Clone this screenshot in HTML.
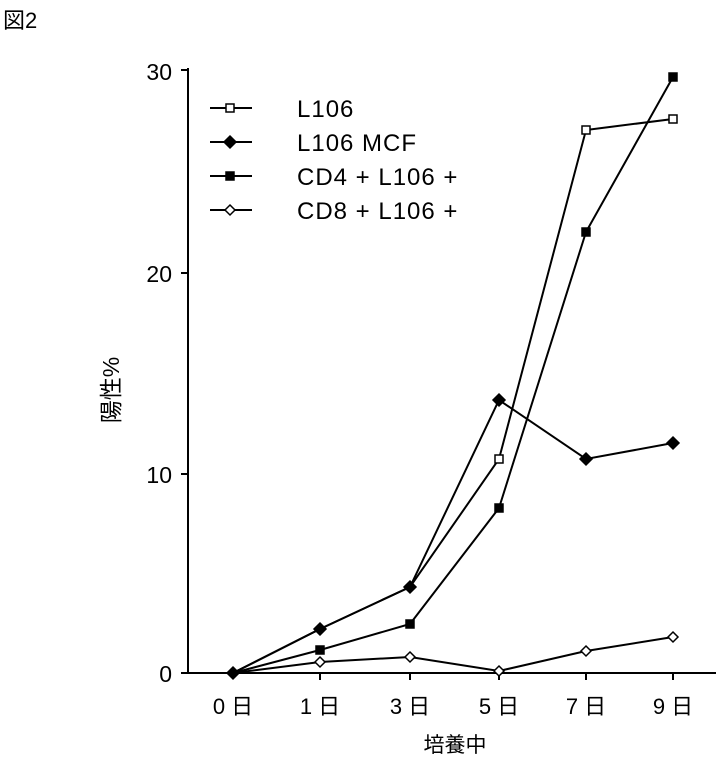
<!DOCTYPE html>
<html><head><meta charset="utf-8"><style>
body{margin:0;background:#fff}
svg text{font-family:"Liberation Sans","Noto Sans CJK JP",sans-serif;fill:#000}
</style></head><body>
<svg width="722" height="759" viewBox="0 0 722 759" xmlns="http://www.w3.org/2000/svg">
<text x="3" y="28" font-size="22">図2</text>
<g stroke="#000" stroke-width="2" fill="none">
<line x1="188" y1="68" x2="188" y2="674"/>
<line x1="187" y1="673" x2="716" y2="673"/>
<line x1="181" y1="70" x2="188" y2="70"/>
<line x1="181" y1="273" x2="188" y2="273"/>
<line x1="181" y1="474" x2="188" y2="474"/>
<line x1="181" y1="673" x2="188" y2="673"/>
<line x1="320" y1="673" x2="320" y2="680"/><line x1="410" y1="673" x2="410" y2="680"/>
<line x1="499" y1="673" x2="499" y2="680"/><line x1="586" y1="673" x2="586" y2="680"/>
<line x1="673" y1="673" x2="673" y2="680"/>
</g>
<g font-size="23" text-anchor="end"><text x="172" y="80">30</text><text x="172" y="282">20</text><text x="172" y="483">10</text><text x="172" y="682">0</text></g>
<g font-size="22" text-anchor="middle">
<text x="233" y="714">0 日</text><text x="320" y="714">1 日</text><text x="410" y="714">3 日</text>
<text x="499" y="714">5 日</text><text x="586" y="714">7 日</text><text x="673" y="714">9 日</text>
</g>
<text x="455" y="752" font-size="21" text-anchor="middle">培養中</text>
<text font-size="23" transform="translate(119,390) rotate(-90)" text-anchor="middle">陽性%</text>
<g stroke="#000" stroke-width="2" fill="none">
<polyline points="233,673 320,629 410,587 499,459 586,130 673,119"/>
<polyline points="233,673 320,629 410,587 499,400 586,459 673,443"/>
<polyline points="233,673 320,650 410,624 499,508 586,232 673,77"/>
<polyline points="233,673 320,662 410,657 499,671 586,651 673,637"/>
<line x1="210" y1="108" x2="252" y2="108"/><line x1="210" y1="142" x2="252" y2="142"/>
<line x1="210" y1="176" x2="252" y2="176"/><line x1="210" y1="210" x2="252" y2="210"/>
</g>
<g stroke="#000" stroke-width="1.5">
<g fill="#fff"><rect x="226" y="104" width="8" height="8"/><rect x="495" y="455" width="8" height="8"/><rect x="582" y="126" width="8" height="8"/><rect x="669" y="115" width="8" height="8"/></g>
<g fill="#000"><path d="M230 136l6 6-6 6-6-6z"/><path d="M320 623l6 6-6 6-6-6z"/><path d="M410 581l6 6-6 6-6-6z"/><path d="M499 394l6 6-6 6-6-6z"/><path d="M586 453l6 6-6 6-6-6z"/><path d="M673 437l6 6-6 6-6-6z"/><path d="M233 667l6 6-6 6-6-6z"/></g>
<g fill="#000"><rect x="226" y="172" width="8" height="8"/><rect x="316" y="646" width="8" height="8"/><rect x="406" y="620" width="8" height="8"/><rect x="495" y="504" width="8" height="8"/><rect x="582" y="228" width="8" height="8"/><rect x="669" y="73" width="8" height="8"/></g>
<g fill="#fff"><path d="M230 205l5 5-5 5-5-5z"/><path d="M320 657l5 5-5 5-5-5z"/><path d="M410 652l5 5-5 5-5-5z"/><path d="M499 666l5 5-5 5-5-5z"/><path d="M586 646l5 5-5 5-5-5z"/><path d="M673 632l5 5-5 5-5-5z"/></g>
</g>
<g font-size="24" letter-spacing="1"><text x="297" y="117">L106</text><text x="297" y="151">L106 MCF</text><text x="297" y="185">CD4 + L106 +</text><text x="297" y="219">CD8 + L106 +</text></g>
</svg>
</body></html>
